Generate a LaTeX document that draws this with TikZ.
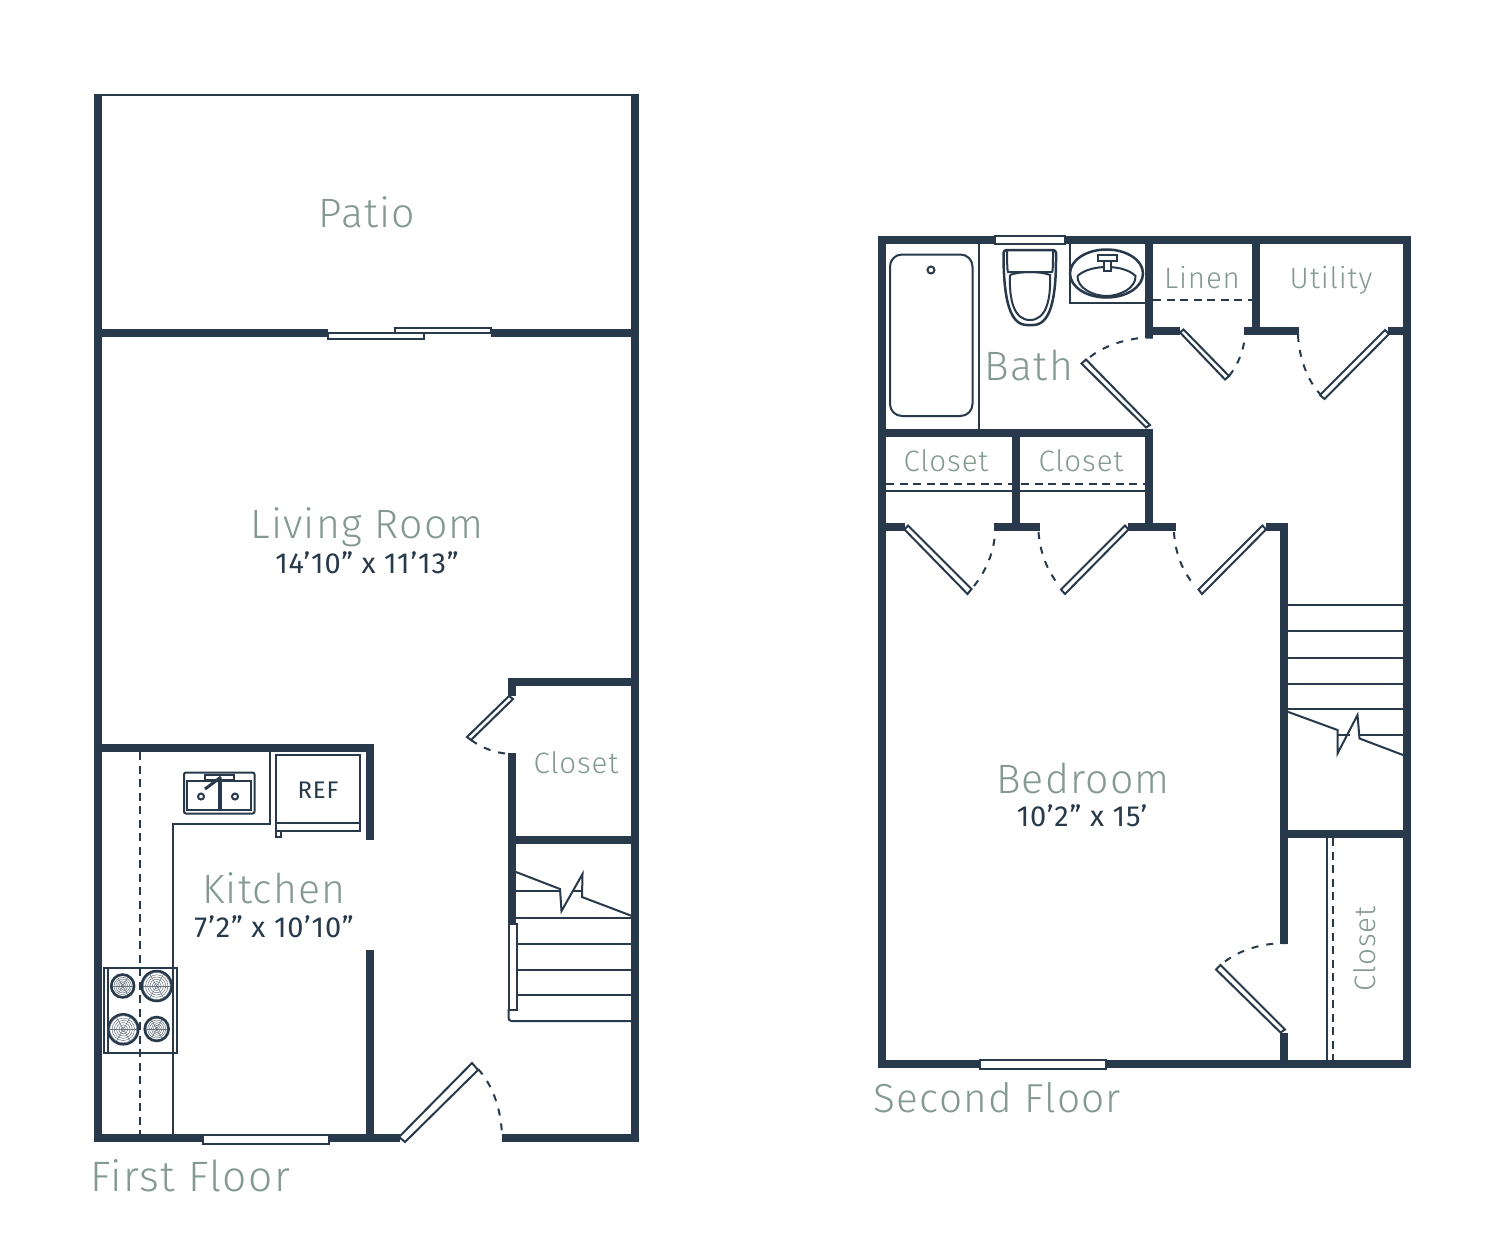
\documentclass[tikz,border=0pt]{standalone}
\usepackage{fontspec}
\usepackage{xcolor}
\setmainfont{Fira Sans Light}
\newfontfamily\roomfont[LetterSpace=3]{Fira Sans Light}
\newfontfamily\dimsfont[LetterSpace=3]{Fira Sans}
\definecolor{wallblue}{HTML}{27394A}
\definecolor{sage}{HTML}{84998F}
\tikzset{style={font=\roomfont}}
\newcommand{\roomsize}[1]{\fontsize{#1}{#1}\selectfont}
\newcommand{\burner}[3]{
    \foreach \k in {0.15,0.3,0.45,0.6,0.75,0.9} {\draw[hair] (#1,#2) circle (#3*\k);}
    \foreach \a in {0,60,...,300} {\draw[hair] (#1,#2) -- ++(\a:#3);}
    \draw[fixture,line width=2.5pt] (#1,#2) circle (#3);
}
\begin{document}
\begin{tikzpicture}[x=1pt,y=-1pt,wall/.style={wallblue,line width=8pt},
                fixture/.style={wallblue,line width=2pt},hair/.style={wallblue!70,line width=.5pt},
                leaf/.style={wallblue,fill=white,line width=2pt},swing/.style={wallblue,line width=2pt,dash pattern=on 7pt off 8pt},
                hidden/.style={wallblue,line width=2pt,dash pattern=on 8pt off 5.5pt},
                bigroom/.style={sage,font=\roomfont\roomsize{41}},smallroom/.style={sage,font=\roomfont\roomsize{29.5}},
                floorname/.style={sage,font=\roomfont\roomsize{40.5},anchor=west},dims/.style={wallblue,font=\dimsfont\roomsize{29}}]
                \useasboundingbox (0,0) rectangle (1504,1244);
                \fill[white] (0,0) rectangle (1504,1244);
                \draw[wall] (98,94) -- (98,1142);
                \draw[wall] (635,94) -- (635,1142);
                \draw[fixture] (94,95) -- (639,95);
                \draw[wall] (94,1138) -- (400,1138);
                \draw[wall] (502,1138) -- (639,1138);
                \draw[wall] (98,333) -- (328,333);
                \draw[wall] (491,333) -- (635,333);
                \draw[leaf] (328,333) rectangle (424,339);
                \draw[leaf] (395,328) rectangle (491,333);
                \draw[wall] (98,748) -- (374,748);
                \draw[wall] (370,744) -- (370,840);
                \draw[wall] (370,950) -- (370,1138);
                \draw[wall] (508,682) -- (635,682);
                \draw[wall] (512,678) -- (512,696);
                \draw[wall] (512,753) -- (512,923);
                \draw[wall] (512,840) -- (635,840);
                \draw[leaf] (509,696) -- (513,699) -- (471,740) -- (467,737) -- cycle;
                \draw[swing] (471,740) .. controls (482,748) and (495,753) .. (510,754);
                \draw[leaf] (399,1137) -- (405,1142) -- (478,1070) -- (472,1063) -- cycle;
                \draw[swing] (478,1069) .. controls (492,1084) and (501,1108) .. (502,1135);
                \draw[hidden] (140,752) -- (140,1134);
                \draw[fixture] (173,1134) -- (173,823.5) -- (270,823.5) -- (270,752);
                \draw[fixture] (275.5,755) rectangle (360,830.5);
                \draw[fixture] (275.5,823) -- (360,823);
                \draw[fixture] (275.5,830.5) rectangle (281,836.5);
                \node[wallblue,font=\dimsfont\roomsize{24}] (ref) at (318,790) {REF};
                \draw[fixture,rounded corners=2pt] (184,772.5) rectangle (254.5,813.5);
                \draw[fixture] (187,781) rectangle (218.5,810);
                \draw[fixture] (221,781) rectangle (251,810);
                \draw[fixture] (205,775) rectangle (234,779.5);
                \draw[wallblue,line width=3pt] (205,789) -- (221,777);
                \draw[fixture] (201,796.5) circle (3);
                \draw[fixture] (235,796.5) circle (3);
                \draw[fixture] (103.5,967.5) rectangle (176.5,1052.5);
                \draw[fixture] (107.5,967.5) -- (107.5,1052.5);
                \draw[fixture] (172.5,967.5) -- (172.5,1052.5);
                \burner{122.7}{986}{11.5}
                \burner{156.7}{986}{15}
                \burner{123.3}{1029.3}{15}
                \burner{156.7}{1029}{12}
                \draw[leaf] (203,1135) rectangle (328.5,1143.5);
                \draw[fixture] (516,872) -- (560,889) -- (561.5,911) -- (582.5,874) -- (582,897) -- (632,916);
                \draw[fixture] (516,891) -- (560,891);
                \draw[fixture] (573,891) -- (582,891);
                \foreach \y in {917.5,943.5,969.5,995} {\draw[fixture] (516,\y) -- (632,\y);}
                \draw[leaf] (508.5,923.5) rectangle (516.5,1009.5);
                \draw[fixture,rounded corners=3pt] (508.5,1009) -- (508.5,1021) -- (632,1021);
                \node[bigroom] (patio) at (367,212) {Patio};
                \node[bigroom] (living) at (367,527) {Living Room};
                \node[dims] (livingsize) at (367,563) {14’10” x 11’13”};
                \node[bigroom] (kitchen) at (274,888) {Kitchen};
                \node[dims] (kitchensize) at (274,927) {7’2” x 10’10”};
                \node[smallroom] (closetone) at (576,763) {Closet};
                \node[floorname,font=\roomfont\roomsize{42.5}] (firstfloor) at (87,1176) {First Floor};
                \draw[wall] (882,236) -- (882,1068);
                \draw[wall] (1407,236) -- (1407,1068);
                \draw[wall] (878,240) -- (1411,240);
                \draw[wall] (878,1064) -- (1411,1064);
                \draw[leaf] (995,235.5) rectangle (1065,244);
                \draw[fixture] (978.5,244) -- (978.5,430);
                \draw[fixture,rounded corners=12pt] (890,254.5) rectangle (972.5,416);
                \draw[fixture] (931,270) circle (3.5);
                \draw[wallblue,line width=2.5pt,rounded corners=3pt] (1003.5,250) -- (1056,250) -- (1056,256) .. controls (1056,300) and (1050,325) .. (1030,325) .. controls (1010,325) and (1004,300) .. (1003.5,256) -- cycle;
                \draw[fixture] (1007,250) .. controls (1007,272) and (1008,272) .. (1008,272) -- (1052,272) .. controls (1053,272) and (1053,260) .. (1053,250);
                \draw[fixture] (1010,275) .. controls (1020,271) and (1040,271) .. (1050,275) .. controls (1051,300) and (1046,320) .. (1030,320) .. controls (1014,320) and (1009,300) .. (1010,275);
                \draw[fixture] (1069.5,244) -- (1069.5,302.5) -- (1146,302.5);
                \draw[wallblue,line width=2.5pt] (1106.5,273.5) ellipse (36.5 and 24);
                \draw[fixture] (1077.5,276) .. controls (1090,264) and (1124,264) .. (1135.5,276) .. controls (1136,288) and (1120,296) .. (1106.5,296) .. controls (1093,296) and (1077,288) .. (1077.5,276);
                \draw[leaf] (1098,255) rectangle (1117,260.5);
                \draw[leaf] (1104,260.5) rectangle (1110.5,271);
                \draw[wall] (1149,240) -- (1149,338);
                \draw[wall] (1255.5,240) -- (1255.5,331);
                \draw[wall] (1145,331) -- (1180,331);
                \draw[wall] (1243.5,331) -- (1298.5,331);
                \draw[wall] (1388,331) -- (1407,331);
                \draw[hidden] (1153,299.5) -- (1252,299.5);
                \draw[leaf] (1180,332.5) -- (1183.5,329.5) -- (1229,376) -- (1225,379.5) -- cycle;
                \draw[swing] (1229,376) .. controls (1238,365) and (1244,350) .. (1245,335);
                \draw[leaf] (1385,330) -- (1389,334) -- (1324.5,399) -- (1320,395) -- cycle;
                \draw[swing] (1298,335) .. controls (1299,357) and (1307,380) .. (1320,394);
                \draw[leaf] (1081.5,363.5) -- (1086,359.5) -- (1150,425) -- (1146,427.5) -- cycle;
                \draw[swing] (1090,357) .. controls (1105,345) and (1130,337) .. (1153,337.5);
                \draw[wall] (878,433) -- (1153,433);
                \draw[wall] (1149,429) -- (1149,527);
                \draw[wall] (1015.5,437) -- (1015.5,523);
                \draw[wall] (878,527) -- (904.5,527);
                \draw[wall] (994,527) -- (1039.5,527);
                \draw[wall] (1128,527) -- (1175.5,527);
                \draw[wall] (1266,527) -- (1288,527);
                \draw[hidden] (886,483.5) -- (1145,483.5);
                \draw[fixture] (886,490.5) -- (1145,490.5);
                \draw[leaf] (904.5,529.5) -- (908,525.5) -- (971.5,589) -- (967.5,594) -- cycle;
                \draw[swing] (974,586) .. controls (986,571) and (994,552) .. (995,533);
                \draw[leaf] (1125,525.5) -- (1128.5,529.5) -- (1065,594) -- (1061,589.5) -- cycle;
                \draw[swing] (1038.5,532) .. controls (1040,552) and (1047,571) .. (1059.5,586);
                \draw[leaf] (1262.5,525.5) -- (1266,529.5) -- (1202,594) -- (1198.5,589.5) -- cycle;
                \draw[swing] (1174,532) .. controls (1175,552) and (1182,571) .. (1195,586);
                \draw[wall] (1283.5,523) -- (1283.5,943.5);
                \draw[wall] (1283.5,1032.5) -- (1283.5,1064);
                \foreach \y in {605,631,657.5,683.5,709} {\draw[fixture] (1287,\y) -- (1403,\y);}
                \draw[fixture] (1287,711.5) -- (1337.5,730) -- (1337.5,753.5) -- (1357.5,715) -- (1359.5,738.5) -- (1403,755);
                \draw[fixture] (1338,735) -- (1350,735);
                \draw[fixture] (1359,735) -- (1403,735);
                \draw[wall] (1283.5,833.5) -- (1407,833.5);
                \draw[fixture] (1327,838) -- (1327,1060);
                \draw[hidden] (1333,838) -- (1333,1060);
                \draw[leaf] (1216,969.5) -- (1220.5,965) -- (1285,1029.5) -- (1280.5,1032.5) -- cycle;
                \draw[swing] (1225,961.5) .. controls (1240,950) and (1262,943) .. (1287,943);
                \draw[leaf] (980,1059.5) rectangle (1106,1069);
                \node[bigroom] (bath) at (1029,365) {Bath};
                \node[smallroom] (linen) at (1202,278) {Linen};
                \node[smallroom] (utility) at (1331,280) {Utility};
                \node[smallroom] (closettwo) at (946,461) {Closet};
                \node[smallroom] (closetthree) at (1081,461) {Closet};
                \node[bigroom] (bedroom) at (1083,778) {Bedroom};
                \node[dims] (bedroomsize) at (1082,816) {10’2” x 15’};
                \node[smallroom,rotate=90] (closetfour) at (1365,949) {Closet};
                \node[floorname] (secondfloor) at (870,1098) {Second Floor};
            \end{tikzpicture}
\end{document}
